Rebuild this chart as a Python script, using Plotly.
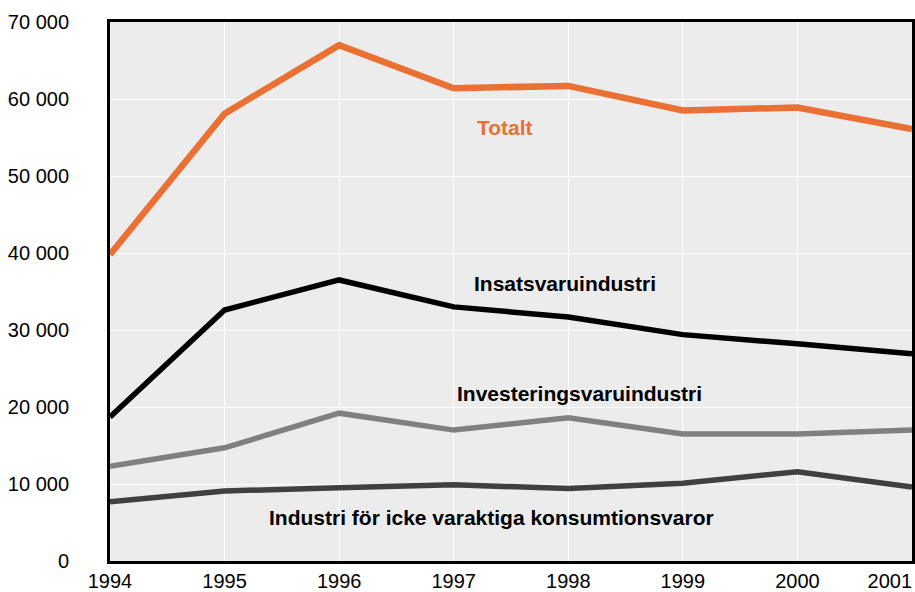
import plotly.graph_objects as go

years = [1994, 1995, 1996, 1997, 1998, 1999, 2000, 2001]
totalt = [39800, 58100, 67000, 61400, 61700, 58500, 58900, 56100]
insats = [18700, 32600, 36500, 33000, 31700, 29400, 28200, 26900]
invest = [12300, 14700, 19200, 17000, 18600, 16500, 16500, 17000]
konsum = [7700, 9100, 9500, 9900, 9400, 10100, 11600, 9600]

y_ticks = [0, 10000, 20000, 30000, 40000, 50000, 60000, 70000]
y_ticktext = ["0", "10 000", "20 000", "30 000", "40 000", "50 000", "60 000", "70 000"]
x_ticktext = ["1994", "1995", "1996", "1997", "1998", "1999", "2000",
              "2001" + "\u00a0" * 8]

fig = go.Figure()
series = [
    (konsum, "#404040", 5.5),
    (invest, "#808080", 5.5),
    (insats, "#000000", 5.5),
    (totalt, "#EA7034", 6.5),
]
for vals, col, w in series:
    fig.add_trace(go.Scatter(x=years, y=vals, mode="lines",
                             line=dict(color=col, width=w), showlegend=False,
                             cliponaxis=True))

ann_font = dict(family="Liberation Sans, Arial, sans-serif", size=21)
fig.add_annotation(x=1997.45, y=56300, text="<b>Totalt</b>", showarrow=False,
                   font=dict(ann_font, color="#EA7034"))
fig.add_annotation(x=1997.97, y=36100, text="<b>Insatsvaruindustri</b>", showarrow=False,
                   font=dict(ann_font, color="#000000"))
fig.add_annotation(x=1998.10, y=21800, text="<b>Investeringsvaruindustri</b>", showarrow=False,
                   font=dict(ann_font, color="#000000"))
fig.add_annotation(x=1997.33, y=5600, text="<b>Industri för icke varaktiga konsumtionsvaror</b>",
                   showarrow=False, font=dict(ann_font, color="#000000"))

fig.update_layout(
    width=915, height=592,
    margin=dict(l=110, r=3, t=22, b=31),
    paper_bgcolor="white",
    plot_bgcolor="#ECECEC",
    font=dict(family="Liberation Sans, Arial, sans-serif", size=20, color="#000000"),
    xaxis=dict(range=[1994, 2001], tickvals=years, ticktext=x_ticktext,
               showgrid=True, gridcolor="white", gridwidth=1,
               showline=True, linecolor="black", linewidth=3, mirror=True,
               ticks="outside", ticklen=0, ticklabelstandoff=0,
               ticklabeloverflow="allow",
               zeroline=False, automargin=False),
    yaxis=dict(range=[0, 70000], tickvals=y_ticks, ticktext=y_ticktext,
               showgrid=True, gridcolor="white", gridwidth=1,
               showline=True, linecolor="black", linewidth=3, mirror=True,
               ticks="outside", ticklen=0, ticklabelstandoff=34,
               zeroline=False, automargin=False),
)

fig.write_html("out.html", config={"displayModeBar": False},
               post_script="document.body.style.margin='0';document.body.style.overflow='hidden';")
